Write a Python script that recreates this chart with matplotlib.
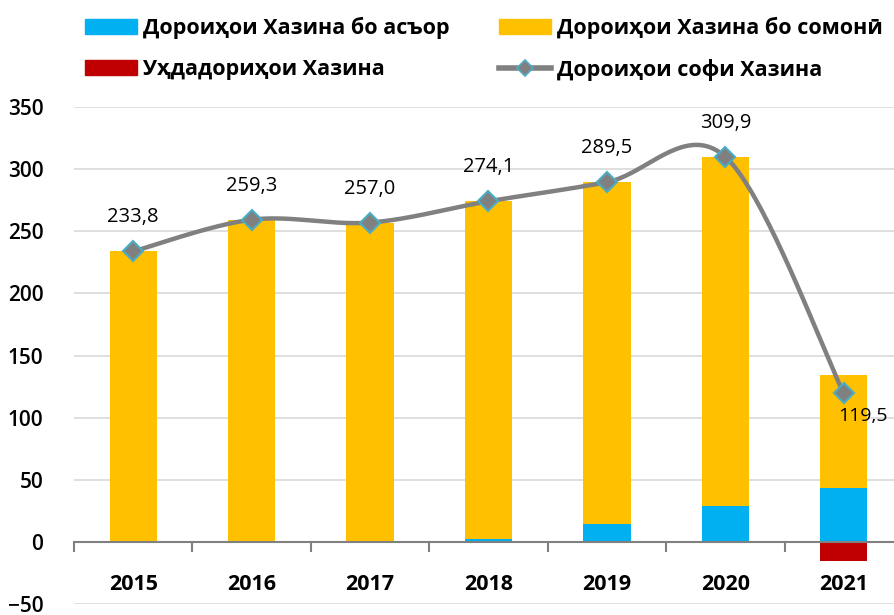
import numpy as np
import matplotlib
matplotlib.use("Agg")
import matplotlib.pyplot as plt
from matplotlib.patches import Patch
from matplotlib.lines import Line2D

plt.rcParams["font.family"] = ["Open Sans", "DejaVu Sans"]

YEARS = ["2015", "2016", "2017", "2018", "2019", "2020", "2021"]
FOREIGN = [0.0, 0.0, 0.0, 2.0, 14.0, 29.0, 43.3]          # Дороиҳои Хазина бо асъор
SOMONI = [233.8, 259.3, 257.0, 272.1, 275.5, 280.9, 91.2]  # Дороиҳои Хазина бо сомонӣ
LIAB = [0.0, 0.0, 0.0, 0.0, 0.0, 0.0, -15.0]               # Уҳдадориҳои Хазина
NET = [233.8, 259.3, 257.0, 274.1, 289.5, 309.9, 119.5]    # Дороиҳои софи Хазина

C_BLUE = "#00B0F0"
C_YELLOW = "#FFC000"
C_RED = "#C00000"
C_LINE = "#808080"
C_EDGE = "#4BACC6"


def smooth(xs, ys, n=40):
    # сглаживание как в Excel (кривая Безье, Catmull-Rom)
    xs = np.asarray(xs, float)
    ys = np.asarray(ys, float)
    px = np.concatenate([[xs[0]], xs, [xs[-1]]])
    py = np.concatenate([[ys[0]], ys, [ys[-1]]])
    outx, outy = [], []
    t = np.linspace(0, 1, n)
    for i in range(1, len(px) - 2):
        p0 = np.array([px[i], py[i]])
        p3 = np.array([px[i + 1], py[i + 1]])
        p1 = p0 + (np.array([px[i + 1], py[i + 1]]) - np.array([px[i - 1], py[i - 1]])) / 6
        p2 = p3 - (np.array([px[i + 2], py[i + 2]]) - np.array([px[i], py[i]])) / 6
        b = ((1 - t) ** 3)[:, None] * p0 + (3 * (1 - t) ** 2 * t)[:, None] * p1 \
            + (3 * (1 - t) * t ** 2)[:, None] * p2 + (t ** 3)[:, None] * p3
        outx.extend(b[:, 0])
        outy.extend(b[:, 1])
    return np.array(outx), np.array(outy)


fig = plt.figure(figsize=(8.95, 6.15), dpi=100)
ax = fig.add_axes([74 / 895, 11 / 615, 829 / 895, 497 / 615])

x = np.arange(len(YEARS))
w = 0.40
ax.bar(x, FOREIGN, w, color=C_BLUE, zorder=2)
ax.bar(x, SOMONI, w, bottom=FOREIGN, color=C_YELLOW, zorder=2)
ax.bar(x, LIAB, w, color=C_RED, zorder=2)

sx, sy = smooth(x, NET)
ax.plot(sx, sy, color=C_LINE, lw=3.2, zorder=3, solid_capstyle="round")
ax.plot(x, NET, ls="none", marker="D", ms=10, mfc=C_LINE, mec=C_EDGE, mew=1.5, zorder=4)

for i, v in enumerate(NET):
    lbl = f"{v:.1f}".replace(".", ",")
    if i == len(NET) - 1:
        ax.annotate(lbl, (x[i], v), xytext=(-4, -16), textcoords="offset points",
                    ha="left", va="center", fontsize=14, zorder=5)
    else:
        ax.annotate(lbl, (x[i], v), xytext=(0, 24.5), textcoords="offset points",
                    ha="center", va="center", fontsize=14.5, zorder=5)

ax.set_xlim(-0.5, 6.5)
ax.set_ylim(-50, 350)
ax.set_yticks(np.arange(-50, 351, 50))
ax.grid(axis="y", color="#D9D9D9", lw=1.2, zorder=0)
ax.set_axisbelow(True)

for s in ["left", "right", "top"]:
    ax.spines[s].set_visible(False)
ax.spines["bottom"].set_position(("data", 0))
ax.spines["bottom"].set_color("#808080")
ax.spines["bottom"].set_linewidth(1.5)
ax.spines["bottom"].set_zorder(3)

ax.set_xticks(np.arange(-0.5, 7, 1))
ax.set_xticklabels([])
ax.tick_params(axis="x", which="major", length=7, width=1.5, color="#808080", direction="out")
ax.set_xticks(x, minor=True)
ax.set_xticklabels(YEARS, minor=True, fontsize=15.5, fontweight="bold")
ax.tick_params(axis="x", which="minor", length=0, pad=23)
ax.tick_params(axis="y", length=0, pad=22, labelsize=15)
for t in ax.get_yticklabels():
    t.set_fontweight("semibold")

handles = [
    Patch(color=C_BLUE, label="Дороиҳои Хазина бо асъор"),
    Patch(color=C_RED, label="Уҳдадориҳои Хазина"),
    Patch(color=C_YELLOW, label="Дороиҳои Хазина бо сомонӣ"),
    Line2D([0], [0], color=C_LINE, lw=4, marker="D", ms=8, mfc=C_LINE, mec=C_EDGE,
           mew=1.2, label="Дороиҳои софи Хазина"),
]
fig.legend(handles=handles, loc="upper left", bbox_to_anchor=(85 / 895, 0.972), ncol=2,
           frameon=False, borderpad=0, borderaxespad=0, handlelength=2.4,
           handletextpad=0.28, columnspacing=2.3, labelspacing=0.9,
           prop={"size": 15.5, "weight": "bold"})

fig.savefig("out.png", dpi=100)
